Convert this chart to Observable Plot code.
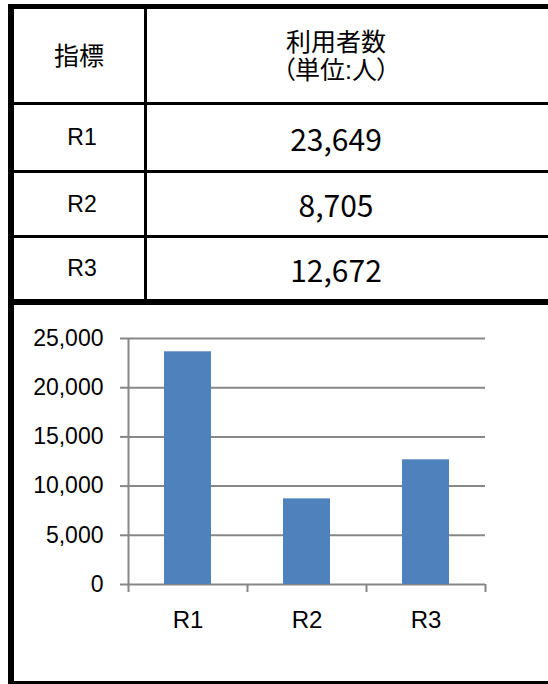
<!DOCTYPE html>
<html>
<head>
<meta charset="utf-8">
<script src="https://cdn.jsdelivr.net/npm/d3@7"></script>
<script src="https://cdn.jsdelivr.net/npm/@observablehq/plot@0.6"></script>
<style>
  html, body { margin: 0; padding: 0; background: #fff; }
  body { width: 548px; height: 684px; overflow: hidden; position: relative; }
  .line { position: absolute; background: #000; z-index: 5; }
  .cell { position: absolute; display: flex; flex-direction: column; align-items: center; justify-content: center; color: #000; }
  .jp { font-family: "Liberation Sans", "Noto Sans CJK JP", sans-serif; font-size: 25px; line-height: 28px; }
  .lab { font-family: "Liberation Sans", Arial, sans-serif; font-size: 23px; }
  .num { font-family: "Noto Sans CJK JP", sans-serif; font-size: 30px; }
  #chart { position: absolute; left: 0; top: 304px; }
</style>
</head>
<body>
<div id="chart"></div>
<script>
const categories = ["R1", "R2", "R3"];
const values = [23649, 8705, 12672];
const yTicks = [0, 5000, 10000, 15000, 20000, 25000];
const headerLeft = "指標";
const headerRight = ["利用者数", "（単位:人）"];

const body = document.body;
function line(x, y, w, h) {
  const d = document.createElement("div");
  d.className = "line";
  Object.assign(d.style, {left: x + "px", top: y + "px", width: w + "px", height: h + "px"});
  body.appendChild(d);
}
function cell(x, y, w, h, cls, lines, extra) {
  const d = document.createElement("div");
  d.className = "cell " + cls;
  Object.assign(d.style, {left: x + "px", top: y + "px", width: w + "px", height: h + "px"}, extra || {});
  for (const t of lines) { const s = document.createElement("div"); s.textContent = t; d.appendChild(s); }
  body.appendChild(d);
}

// table borders
line(8, 4, 540, 5);        // top
line(8, 4, 6, 680);        // left
line(144, 9, 3, 290);      // column divider
line(14, 102, 534, 3);     // header bottom
line(14, 170, 534, 3);
line(14, 235, 534, 3);
line(8, 299, 540, 6);      // thick separator
line(8, 681, 540, 3);      // bottom

// header cells
cell(14, 9, 130, 93, "jp", [headerLeft]);
cell(147, 9, 378, 93, "jp", headerRight, {fontFeatureSettings: '"palt"'});

// rows
const rowBox = [[105, 65], [173, 62], [238, 61]];
categories.forEach((c, i) => {
  const [top, h] = rowBox[i];
  cell(14, top, 136, h, "lab", [c]);
  cell(147, top, 378, h, "num", [d3.format(",")(values[i])]);
});

// chart
const data = categories.map((c, i) => ({cat: c, value: values[i]}));
const gray = "#878787";
const chart = Plot.plot({
  width: 548,
  height: 377,
  marginTop: 34,
  marginBottom: 97,
  marginLeft: 128,
  marginRight: 63,
  style: {fontFamily: "'Liberation Sans', Arial, sans-serif", background: "transparent", overflow: "visible", color: "#000"},
  x: {domain: categories, paddingInner: 0.605, paddingOuter: 0.3025, axis: null, label: null},
  y: {domain: [0, 25000], axis: null, label: null},
  marks: [
    Plot.ruleY(yTicks, {y: d => d, stroke: gray, strokeWidth: 2}),
    Plot.barY(data, {x: "cat", y: "value", fill: "#4F81BD"}),
    Plot.ruleX([categories[0]], {x: d => d, dx: -59.5, y1: 25000, y2: 0, insetBottom: -8, stroke: gray, strokeWidth: 2}),
    Plot.ruleX(categories.slice(1), {x: d => d, dx: -59.5, y1: 0, y2: 0, insetBottom: -8, stroke: gray, strokeWidth: 2}),
    Plot.ruleX([categories[2]], {x: d => d, dx: 59.5, y1: 0, y2: 0, insetBottom: -8, stroke: gray, strokeWidth: 2}),
    Plot.axisY({ticks: yTicks, tickSize: 8, tickPadding: 17, tickFormat: d3.format(","), stroke: gray, strokeWidth: 2, fill: "#000", fontSize: 23, label: null}),
    Plot.axisX({tickSize: 0, tickPadding: 26, fontSize: 24, fill: "#000", label: null})
  ]
});
document.getElementById("chart").appendChild(chart);
</script>
</body>
</html>
